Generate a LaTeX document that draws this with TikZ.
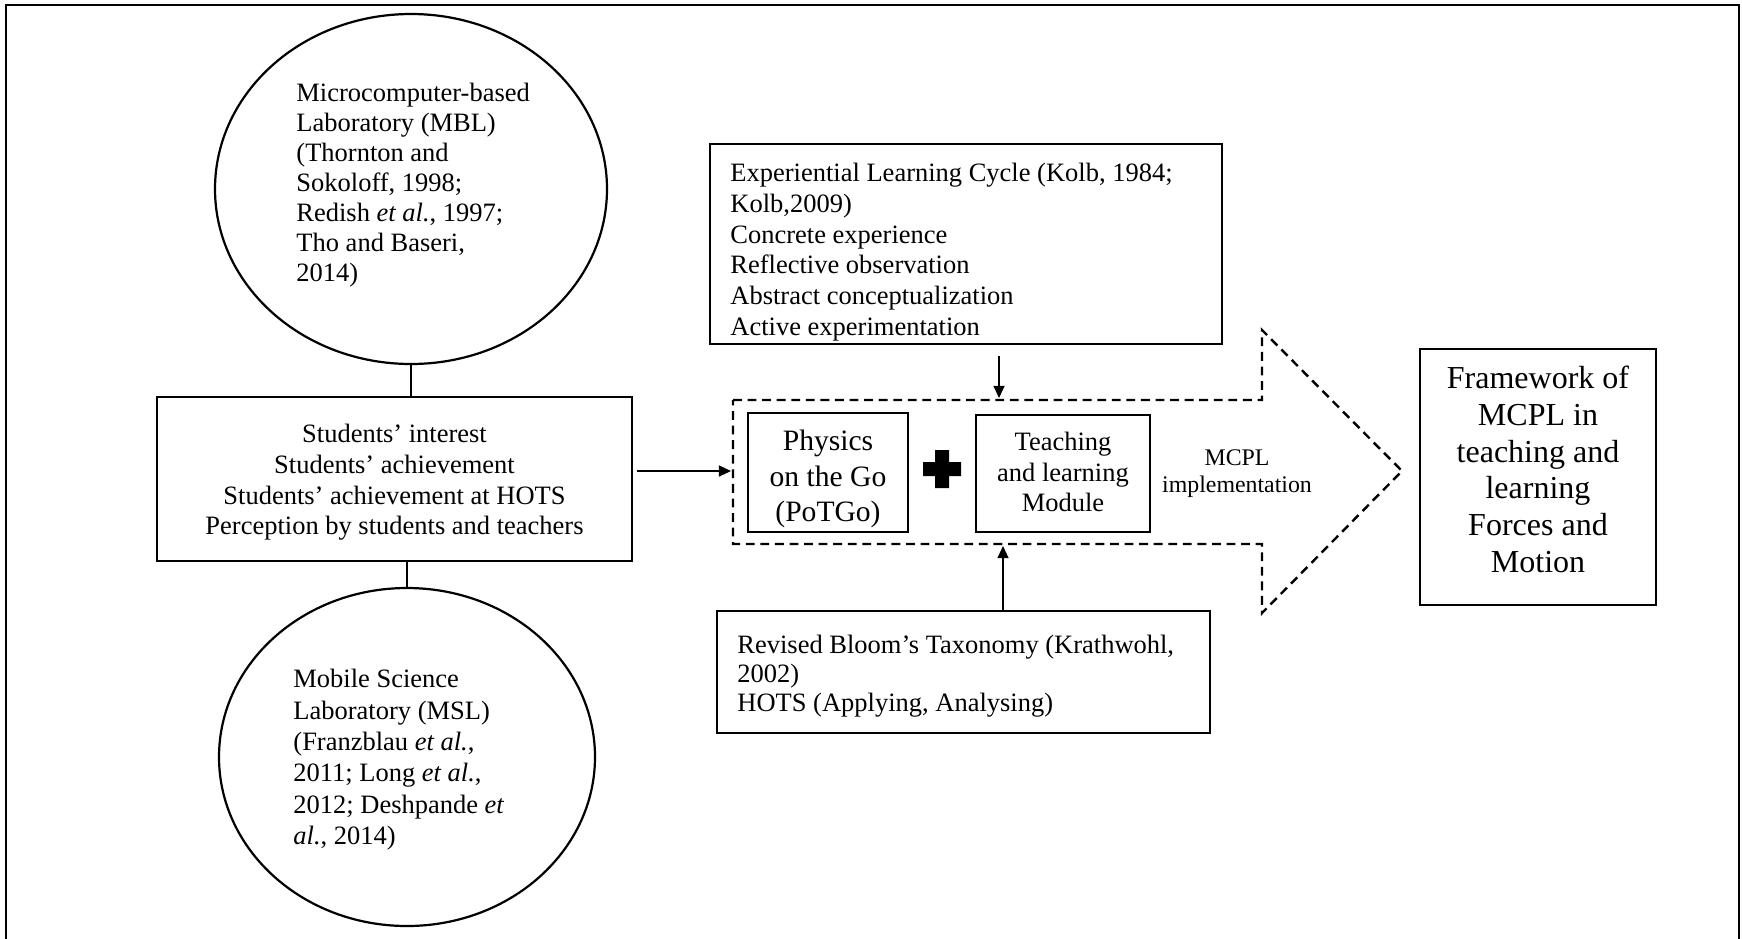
\documentclass[tikz,border=0pt]{standalone}
\usepackage{fontspec}
\setmainfont{Liberation Serif}
\usetikzlibrary{arrows.meta,shapes.geometric,fit}
\tikzset{
  thinbox/.style={draw, line width=0.6pt, inner sep=0pt},
  oval/.style={draw, ellipse, line width=1pt, inner sep=0pt},
  txt/.style={inner sep=0pt, font=\fontsize{12}{13.8}\selectfont},
  arr/.style={-{Triangle[length=5.5pt,width=5pt]}, line width=0.6pt},
  dashedarrow/.style={line width=1.1pt, dash pattern=on 4pt off 2.6pt},
  conn/.style={line width=0.6pt},
}
\begin{document}
\begin{tikzpicture}[x=0.453pt,y=-0.453pt]
\useasboundingbox (0,0) rectangle (1742,938);
% frame
\draw[line width=0.8pt] (6,940) -- (6,5) -- (1739,5) -- (1739,940);

% top ellipse
\node[oval, minimum width=392*0.453pt, minimum height=350*0.453pt] (mbl) at (411,189) {};
\node[txt, font=\fontsize{12}{13.6}\selectfont, align=left, anchor=north west] (mblt) at (296,83)
  {Microcomputer-based\\Laboratory (MBL)\\(Thornton and\\Sokoloff, 1998;\\Redish \textit{et al.}, 1997;\\Tho and Baseri,\\2014)};

% students box
\node[thinbox, fit={(157,397) (632,561)}] (stud) {};
\node[txt, font=\fontsize{12}{13.9}\selectfont, align=center, anchor=north] (studt) at (394.5,424)
  {Students’ interest\\Students’ achievement\\Students’ achievement at HOTS\\Perception by students and teachers};

% bottom ellipse
\node[oval, minimum width=376*0.453pt, minimum height=338*0.453pt] (msl) at (407,757) {};
\node[txt, font=\fontsize{12}{14.2}\selectfont, align=left, anchor=north west] (mslt) at (293,669)
  {Mobile Science\\Laboratory (MSL)\\(Franzblau \textit{et al.},\\2011; Long \textit{et al.},\\2012; Deshpande \textit{et}\\\textit{al.}, 2014)};

\draw[conn] (mbl.south) -- (mbl.south |- stud.north);
\draw[conn] (stud.south -| msl.north) -- (msl.north);

% Kolb box
\node[thinbox, fit={(710,144) (1222,344)}] (kolb) {};
\node[txt, font=\fontsize{12}{13.9}\selectfont, align=left, anchor=north west] (kolbt) at (730,163)
  {Experiential Learning Cycle (Kolb, 1984;\\Kolb,2009)\\Concrete experience\\Reflective observation\\Abstract conceptualization\\Active experimentation};

% Revised box
\node[thinbox, fit={(717,611) (1210,733)}] (rev) {};
\node[txt, font=\fontsize{12}{13}\selectfont, align=left, anchor=north west] (revt) at (737,635)
  {Revised Bloom’s Taxonomy (Krathwohl,\\2002)\\HOTS (Applying, Analysing)};

% dashed block arrow
\draw[dashedarrow] (733,400) -- (1262,400) -- (1262,330) -- (1402,471) -- (1262,613) -- (1262,544) -- (733,544) -- cycle;
\coordinate (dl) at (731,471);
\coordinate (dt) at (999,398);
\coordinate (db) at (1003,546);

% PoTGo box
\node[thinbox, fit={(748,413) (908,532)}] (potgo) {};
\node[txt, font=\fontsize{13.4}{16}\selectfont, align=center, anchor=north] (potgot) at (828,430)
  {Physics\\on the Go\\(PoTGo)};

% plus
\fill (935,450) -- (949,450) -- (949,462) -- (961,462) -- (961,476) -- (949,476) -- (949,488)
  -- (935,488) -- (935,476) -- (923,476) -- (923,462) -- (935,462) -- cycle;

% Teaching box
\node[thinbox, fit={(976,415) (1150,532)}] (tlm) {};
\node[txt, font=\fontsize{12}{13.8}\selectfont, align=center, anchor=north] (tlmt) at (1063,432)
  {Teaching\\and learning\\Module};

% MCPL label
\node[txt, font=\fontsize{10.8}{12.2}\selectfont, align=center, anchor=north] (mcpl) at (1237,449)
  {MCPL\\implementation};

% Framework box
\node[thinbox, fit={(1420,349) (1656,605)}] (fw) {};
\node[txt, font=\fontsize{14.5}{16.6}\selectfont, align=center, anchor=north] (fwt) at (1538,366)
  {Framework of\\MCPL in\\teaching and\\learning\\Forces and\\Motion};

% arrows
\draw[arr, shorten <=2pt] (stud.east |- dl) -- (dl);
\draw[arr, shorten <=5pt] (kolb.south -| dt) -- (dt);
\draw[arr] (rev.north -| db) -- (db);
\end{tikzpicture}
\end{document}
